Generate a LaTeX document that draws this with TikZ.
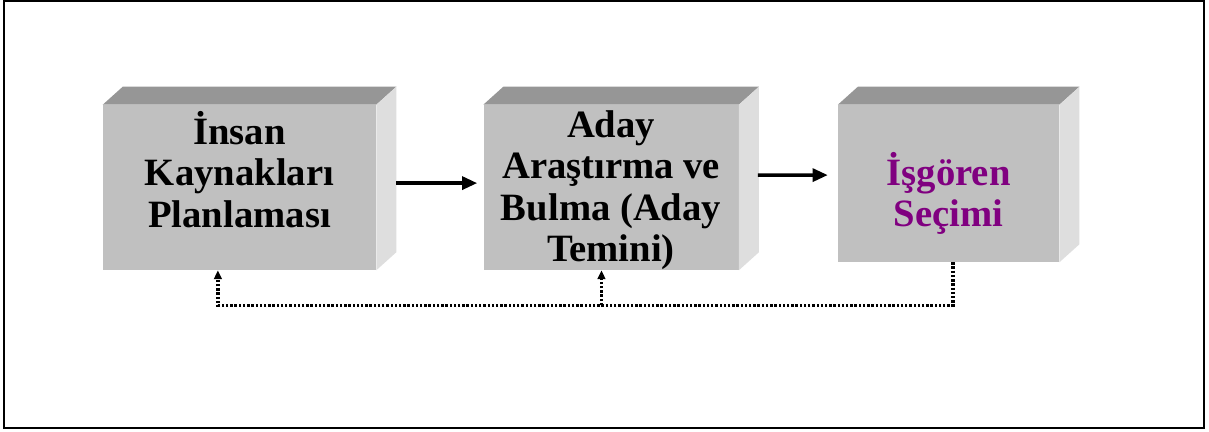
\documentclass[tikz,border=0pt]{standalone}
\usepackage{fontspec}
\setmainfont{Liberation Serif}
\usepackage{xcolor}
\usepackage{tikz}
\usetikzlibrary{arrows.meta,positioning}

\definecolor{frontgray}{RGB}{192,192,192}
\definecolor{topgray}{RGB}{150,150,150}
\definecolor{sidegray}{RGB}{222,222,222}
\definecolor{secimpurple}{RGB}{128,0,128}

\begin{document}
\begin{tikzpicture}[
    stage/.style={rectangle, fill=frontgray, inner sep=0pt,
                  minimum height=4.125cm},
    stagetext/.style={inner sep=0pt, align=center,
                  font=\fontsize{27.5}{29.5}\selectfont\bfseries},
    flow/.style={-{Triangle[length=0.38cm,width=0.32cm]}, line width=2.6pt},
    feedback/.style={-{Triangle[length=0.22cm,width=0.19cm]}, line width=2.4pt,
                     dash pattern=on 1.7pt off 1.3pt},
    node distance=0.6cm and 2.675cm
]
\useasboundingbox (0,0) rectangle (30.225,-10.8);
\draw[line width=1.5pt] (0.1,-0.03) rectangle (30.1,-10.71);

% the three stages
\node[stage, minimum width=6.825cm] (plan) at (5.9875,-4.6875) {};
\node[stage, minimum width=6.375cm, right=of plan] (temin) {};
\node[stage, minimum width=5.525cm, minimum height=3.925cm,
      right=2.475cm of temin, yshift=0.1cm] (secim) {};

% 3d faces
\foreach \b in {plan,temin,secim} {
  \fill[topgray] (\b.north west) -- ++(0.5,0.45)
    -- ([shift={(0.5,0.45)}]\b.north east) -- (\b.north east) -- cycle;
  \fill[sidegray] (\b.north east) -- ++(0.5,0.45)
    -- ([shift={(0.5,0.45)}]\b.south east) -- (\b.south east) -- cycle;
}

\node[stagetext] (plantext) at ([yshift=0.45cm]plan.center)
  {İnsan\\Kaynakları\\Planlaması};
\node[stagetext] (temintext) at ([yshift=-0.07cm]temin.center)
  {Aday\\Araştırma ve\\Bulma (Aday\\Temini)};
\node[stagetext, text=secimpurple] (secimtext) at ([yshift=-0.25cm]secim.center)
  {İşgören\\Seçimi};

\draw[flow] ([xshift=0.5cm,yshift=0.11cm]plan.east)
  -- ([xshift=-0.15cm,yshift=0.11cm]temin.west);
\draw[flow] ([xshift=0.475cm,yshift=0.31cm]temin.east)
  -- ([xshift=-0.25cm,yshift=0.21cm]secim.west);

% feedback loop
\draw[feedback] ([xshift=0.11cm]secim.south)
  |- ([xshift=-0.54cm,yshift=-0.875cm]plan.south)
  -- ([xshift=-0.54cm]plan.south);
\draw[feedback] ([xshift=-0.24cm,yshift=-0.875cm]temin.south)
  -- ([xshift=-0.24cm]temin.south);

\end{tikzpicture}
\end{document}
